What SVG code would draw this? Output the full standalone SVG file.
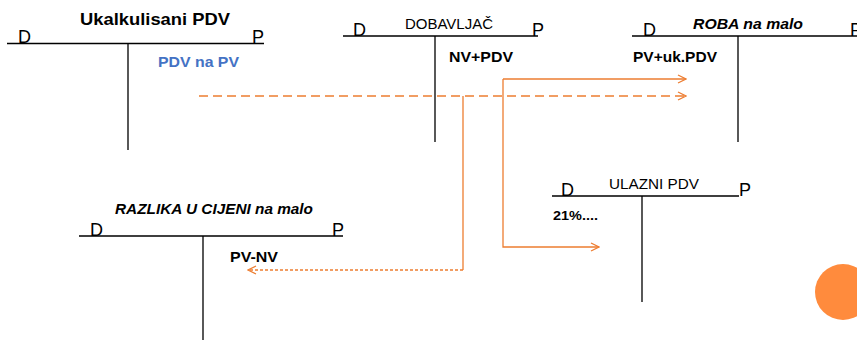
<svg xmlns="http://www.w3.org/2000/svg" width="857" height="340" viewBox="0 0 857 340">
<style>
text{font-family:"Liberation Sans",Arial,sans-serif;fill:#000}
.dp{font-size:18px}
.t{font-size:15px}
.b{font-weight:bold}
.i{font-style:italic}
.blue{fill:#4472C4}
.ln{stroke:#000;stroke-width:1.3;fill:none}
.c{stroke:#ED7D31;stroke-width:1.3;fill:none}
</style>
<defs>
<marker id="ar" viewBox="0 0 10 10" refX="9" refY="5" markerWidth="10" markerHeight="10" markerUnits="userSpaceOnUse" orient="auto">
<path d="M1,1 L9,5 L1,9" fill="none" stroke="#ED7D31" stroke-width="1.3" stroke-dasharray="none"/>
</marker>
</defs>
<rect width="857" height="340" fill="#fff"/>
<g id="ukalkulisani-pdv">
<text x="155" y="25" text-anchor="middle" class="b" font-size="17" textLength="150" lengthAdjust="spacingAndGlyphs">Ukalkulisani PDV</text>
<text x="18" y="43" class="dp">D</text>
<text x="252" y="43" class="dp">P</text>
<path class="ln" d="M7,43.5 H264 M128,43.5 V150"/>
<text x="158" y="67" class="b blue" font-size="14" textLength="81" lengthAdjust="spacingAndGlyphs">PDV na PV</text>
</g>
<g id="dobavljac">
<text x="449" y="29" text-anchor="middle" class="t" textLength="88" lengthAdjust="spacingAndGlyphs">DOBAVLJAČ</text>
<text x="353" y="36" class="dp">D</text>
<text x="532" y="36" class="dp">P</text>
<path class="ln" d="M343,36 H538 M435,36 V142"/>
<text x="449" y="62" class="b t" textLength="64" lengthAdjust="spacingAndGlyphs">NV+PDV</text>
</g>
<g id="roba-na-malo">
<text x="693" y="29" class="b i t" textLength="110" lengthAdjust="spacingAndGlyphs">ROBA na malo</text>
<text x="643" y="36" class="dp">D</text>
<text x="850" y="36" class="dp">P</text>
<path class="ln" d="M632,36 H857 M738,36 V142"/>
<text x="633" y="62" class="b t" textLength="84" lengthAdjust="spacingAndGlyphs">PV+uk.PDV</text>
</g>
<g id="razlika-u-cijeni">
<text x="115" y="214" class="b i" font-size="14" textLength="198" lengthAdjust="spacingAndGlyphs">RAZLIKA U CIJENI na malo</text>
<text x="90" y="236" class="dp">D</text>
<text x="332" y="236" class="dp">P</text>
<path class="ln" d="M79,236 H343 M203,236 V340"/>
<text x="230" y="262" class="b" font-size="14" textLength="48" lengthAdjust="spacingAndGlyphs">PV-NV</text>
</g>
<g id="ulazni-pdv">
<text x="609" y="189" class="t" textLength="90" lengthAdjust="spacingAndGlyphs">ULAZNI PDV</text>
<text x="561" y="196" class="dp">D</text>
<text x="739" y="196" class="dp">P</text>
<path class="ln" d="M552,196 H739 M642,196 V302"/>
<text x="553" y="220" class="b" font-size="12.5" textLength="45" lengthAdjust="spacingAndGlyphs">21%....</text>
</g>
<g id="connectors">
<path class="c" d="M199,96 H686" stroke-dasharray="9,5" marker-end="url(#ar)"/>
<path class="c" d="M503,79 H686" marker-end="url(#ar)"/>
<path class="c" d="M503,79 V247 H599" marker-end="url(#ar)"/>
<path class="c" d="M463,96 V270"/>
<path class="c" d="M463,270 H248" stroke-dasharray="3,2" marker-end="url(#ar)"/>
</g>
<circle id="dot" cx="843" cy="292" r="28" fill="#FF8B3D"/>
</svg>
